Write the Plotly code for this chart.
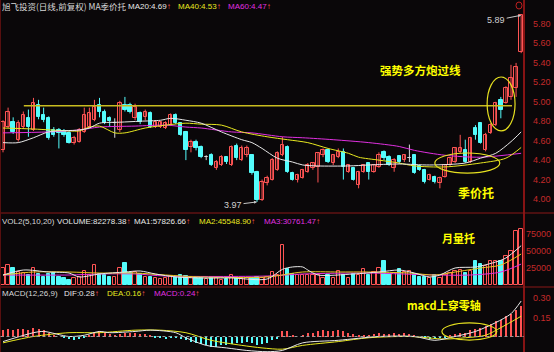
import plotly.graph_objects as go

# ---------------- data ----------------
open_ = [4.50,4.74,4.79,4.61,4.74,4.83,4.71,4.97,4.86,4.83,
         4.71,4.71,4.70,4.68,4.58,4.59,4.69,4.74,4.81,4.97,
         4.90,4.83,4.78,4.71,4.97,4.97,4.83,4.88,4.84,4.88,
         4.74,4.74,4.73,4.76,4.86,4.78,4.69,4.53,4.59,4.53,
         4.43,4.45,4.32,4.35,4.43,4.35,4.55,4.40,4.45,4.45,
         4.28,3.99,4.16,4.20,4.30,4.45,4.54,4.27,4.20,4.22,
         4.28,4.32,4.33,4.45,4.50,4.37,4.43,4.48,4.28,4.32,
         4.14,4.28,4.37,4.28,4.33,4.48,4.43,4.32,4.44,4.40,
         4.42,4.45,4.34,4.30,4.20,4.23,4.16,4.23,4.35,4.38,
         4.48,4.50,4.38,4.73,4.78,4.50,4.68,4.76,5.02,4.99,
         5.05,5.14,5.51]
high = [4.81,4.94,4.84,4.81,4.90,4.92,5.04,5.02,4.94,4.85,
        4.74,4.73,4.72,4.70,4.65,4.73,4.94,4.94,5.02,5.04,
        4.92,4.85,4.83,5.01,5.05,4.99,4.98,4.90,4.92,4.90,
        4.81,4.80,4.80,4.88,4.88,4.79,4.70,4.61,4.61,4.55,
        4.45,4.47,4.40,4.45,4.44,4.55,4.57,4.55,4.55,4.46,
        4.29,4.20,4.24,4.42,4.49,4.64,4.55,4.28,4.26,4.31,
        4.37,4.38,4.48,4.52,4.51,4.46,4.52,4.52,4.36,4.33,
        4.29,4.36,4.38,4.36,4.48,4.50,4.45,4.42,4.45,4.46,
        4.56,4.46,4.35,4.31,4.26,4.24,4.23,4.36,4.43,4.53,
        4.66,4.61,4.64,4.76,4.79,4.68,4.78,5.00,5.05,5.16,
        5.38,5.40,5.89]
low = [4.48,4.73,4.67,4.59,4.72,4.64,4.70,4.82,4.79,4.61,
       4.64,4.52,4.64,4.57,4.56,4.58,4.68,4.73,4.80,4.84,
       4.77,4.74,4.63,4.69,4.90,4.88,4.81,4.77,4.81,4.73,
       4.73,4.73,4.72,4.75,4.77,4.65,4.40,4.48,4.50,4.42,
       4.40,4.34,4.30,4.34,4.36,4.34,4.40,4.39,4.43,4.25,
       3.97,3.98,4.14,4.19,4.29,4.44,4.27,4.19,4.17,4.21,
       4.27,4.30,4.17,4.43,4.37,4.35,4.42,4.20,4.27,4.19,
       4.11,4.27,4.20,4.27,4.32,4.40,4.34,4.28,4.36,4.38,
       4.38,4.26,4.29,4.16,4.19,4.16,4.11,4.22,4.34,4.37,
       4.47,4.37,4.37,4.61,4.57,4.49,4.67,4.75,4.83,4.98,
       5.02,5.05,5.50]
close = [4.79,4.90,4.69,4.78,4.86,4.74,4.99,4.84,4.81,4.63,
         4.66,4.68,4.66,4.58,4.63,4.71,4.86,4.88,4.95,4.90,
         4.78,4.80,4.78,4.99,4.92,4.90,4.95,4.79,4.90,4.74,
         4.79,4.79,4.78,4.86,4.78,4.66,4.50,4.59,4.52,4.43,
         4.43,4.35,4.38,4.43,4.38,4.53,4.42,4.52,4.52,4.27,
         3.99,4.17,4.22,4.40,4.47,4.56,4.28,4.20,4.25,4.30,
         4.35,4.37,4.47,4.50,4.38,4.45,4.48,4.33,4.35,4.20,
         4.28,4.35,4.28,4.35,4.45,4.42,4.35,4.40,4.38,4.45,
         4.42,4.27,4.30,4.17,4.25,4.17,4.22,4.35,4.42,4.52,
         4.52,4.38,4.63,4.66,4.58,4.66,4.76,4.99,4.92,5.14,
         5.24,5.36,5.89]
volume = [24500,30000,25500,19600,17000,14700,25500,15700,12000,15700,
          17000,12000,9800,7400,9800,12000,20600,14700,29400,15700,
          14700,12000,12000,24500,32800,17000,19600,15700,12000,12000,
          9800,8800,9800,13700,12000,14700,13700,9800,9800,9800,
          8800,10500,9800,7400,9000,14700,9800,8800,9800,11000,
          12000,9800,12000,19600,15000,59000,23500,15700,14700,14700,
          14700,14700,14700,10000,14700,10000,21000,14700,10000,15700,
          14700,23500,14700,19600,25500,35000,15700,17000,23500,19600,
          21000,15700,12000,12000,9800,14000,11000,15000,17000,20000,
          22000,18000,21000,36000,31000,28000,35000,36000,35000,42000,
          50000,80000,82278]
macd_hist = [0.05,0.06,0.05,0.06,0.06,0.05,0.07,0.06,0.05,0.03,
             0.01,0.00,-0.01,-0.02,-0.03,-0.02,-0.01,0.01,0.03,0.04,
             0.03,0.02,0.01,0.02,0.03,0.03,0.03,0.02,0.02,0.01,
             -0.01,-0.01,-0.02,-0.01,-0.01,-0.02,-0.03,-0.04,-0.05,-0.06,
             -0.07,-0.08,-0.08,-0.07,-0.07,-0.06,-0.05,-0.05,-0.04,-0.05,
             -0.07,-0.06,-0.05,-0.03,-0.02,0.04,0.04,0.01,0.00,0.01,
             0.03,0.03,0.04,0.05,0.04,0.04,0.05,0.04,0.03,0.02,
             0.01,0.01,0.01,0.02,0.03,0.02,0.02,0.03,0.02,0.03,
             0.02,0.01,0.00,-0.01,-0.02,-0.02,-0.01,-0.01,0.01,0.02,
             0.03,0.03,0.05,0.06,0.07,0.08,0.10,0.12,0.13,0.16,
             0.18,0.21,0.24]

# moving-average lines, read at sample points (candle index, value)
ma20_i = [0,3,6,9,15,17,19,23,27,31,33,36,39,43,47,49,51,54,57,59,62,68,72,78,84,91,94,97,100,102]
ma20_v = [4.58,4.58,4.63,4.69,4.71,4.73,4.78,4.79,4.80,4.81,4.83,4.81,4.78,4.69,4.61,4.58,4.52,4.42,4.38,4.35,4.34,4.34,4.35,4.36,4.35,4.37,4.42,4.47,4.59,4.69]
ma40_i = [0,6,13,15,17,19,22,24,28,32,36,39,43,47,52,56,60,64,68,70,74,78,81,87,94,99,102]
ma40_v = [4.73,4.72,4.70,4.70,4.74,4.75,4.68,4.68,4.73,4.76,4.78,4.77,4.76,4.69,4.64,4.61,4.58,4.52,4.47,4.43,4.40,4.37,4.34,4.33,4.37,4.42,4.53]
ma60_i = [0,9,15,19,26,32,36,39,45,49,55,59,65,72,78,81,87,94,102]
ma60_v = [4.68,4.69,4.71,4.74,4.75,4.76,4.74,4.73,4.69,4.68,4.64,4.63,4.61,4.58,4.54,4.50,4.45,4.43,4.47]

vma5_i = [0,4,9,13,15,19,24,27,30,34,39,45,52,55,57,59,60,62,69,74,78,81,84,86,89,93,97,99,102]
vma5_v = [14700,22000,19100,17600,11800,16200,19100,20600,16200,11800,10300,10300,8800,23000,26500,26500,22000,14700,16200,19100,22000,17600,11800,14700,25000,26500,33800,39700,57827]
vma10_i = [0,6,13,19,26,32,39,52,59,66,72,80,85,89,94,98,102]
vma10_v = [14700,19100,19100,17600,17600,14700,11800,11800,19100,19100,19100,17600,14700,19100,25000,29400,45549]
vma20_i = [0,13,19,26,32,52,59,72,85,92,98,102]
vma20_v = [14700,14700,16200,16200,13200,13200,16200,17600,14700,14700,19100,30761]

dif_i = [0,6,8,13,16,19,21,26,29,34,36,40,44,48,52,55,59,66,74,81,85,89,93,97,100,102]
dif_v = [-0.04,0.03,0.04,0.00,0.01,0.04,0.03,0.04,0.05,0.03,-0.01,-0.07,-0.09,-0.11,-0.12,-0.11,-0.05,-0.03,0.00,0.00,-0.03,0.00,0.04,0.11,0.18,0.28]
dea_i = [0,6,13,19,26,31,36,41,47,51,55,59,66,72,80,87,91,95,98,102]
dea_v = [-0.05,0.00,0.03,0.03,0.05,0.05,0.03,-0.03,-0.07,-0.09,-0.10,-0.07,-0.04,-0.01,0.00,-0.02,-0.01,0.01,0.07,0.16]

price_ticks = [4.00,4.20,4.40,4.60,4.80,5.00,5.20,5.40,5.60,5.80]
vol_ticks = [25000,50000,75000]
macd_ticks = [0.15,0.30]
resist_level = 4.96

# ---------------- styling ----------------
BG = "#0a0709"
RED = "#ff5454"
CYAN = "#54fcfc"
AXRED = "#c42a2a"
YEL = "#ffff00"
W, H, PR = 554, 352, 524
LAT = "Liberation Sans, Arial, sans-serif"
CJK = "Noto Sans CJK SC, sans-serif"

N = len(close)
xs = list(range(N))
up = [c >= o for o, c in zip(open_, close)]
doji = [abs(c - o) < 1e-9 for o, c in zip(open_, close)]

fig = go.Figure()

def wick_trace(sel, color):
    wx, wy = [], []
    for i in xs:
        if sel(i):
            wx += [i, i, None]
            wy += [low[i], high[i], None]
    return go.Scatter(x=wx, y=wy, mode="lines", line=dict(color=color, width=1),
                      hoverinfo="skip", yaxis="y")

fig.add_trace(wick_trace(lambda i: up[i] and not doji[i], RED))
fig.add_trace(wick_trace(lambda i: not up[i], CYAN))
fig.add_trace(wick_trace(lambda i: doji[i], "#d8d8d8"))

def body_trace(sel, fill, line):
    bx = [i for i in xs if sel(i)]
    base = [min(open_[i], close[i]) for i in bx]
    hgt = [max(abs(close[i] - open_[i]), 0.004) for i in bx]
    return go.Bar(x=bx, y=hgt, base=base, width=0.66, yaxis="y",
                  marker=dict(color=fill, line=dict(color=line, width=1)),
                  hoverinfo="skip")

fig.add_trace(body_trace(lambda i: up[i] and not doji[i], BG, RED))
fig.add_trace(body_trace(lambda i: not up[i], CYAN, CYAN))
fig.add_trace(body_trace(lambda i: doji[i], "#d8d8d8", "#d8d8d8"))

for mi, mv, col in [(ma60_i, ma60_v, "#e030e0"), (ma40_i, ma40_v, "#e8e820"), (ma20_i, ma20_v, "#e8e8e8")]:
    fig.add_trace(go.Scatter(x=mi, y=mv, mode="lines", line=dict(color=col, width=1, shape="spline", smoothing=0.8),
                             yaxis="y", hoverinfo="skip"))

vu = [i for i in xs if up[i]]
vd = [i for i in xs if not up[i]]
fig.add_trace(go.Bar(x=vu, y=[volume[i] for i in vu], width=0.66, yaxis="y2",
                     marker=dict(color=BG, line=dict(color=RED, width=1)), hoverinfo="skip"))
fig.add_trace(go.Bar(x=vd, y=[volume[i] for i in vd], width=0.66, yaxis="y2",
                     marker=dict(color=CYAN, line=dict(color=CYAN, width=1)), hoverinfo="skip"))
for mi, mv, col in [(vma20_i, vma20_v, "#e030e0"), (vma10_i, vma10_v, "#e8c820"), (vma5_i, vma5_v, "#e8e8e8")]:
    fig.add_trace(go.Scatter(x=mi, y=mv, mode="lines", line=dict(color=col, width=1, shape="spline", smoothing=0.8),
                             yaxis="y2", hoverinfo="skip"))

fig.add_trace(go.Bar(x=xs, y=macd_hist, width=0.22, yaxis="y3",
                     marker=dict(color=[RED if v >= 0 else CYAN for v in macd_hist], line=dict(width=0)),
                     hoverinfo="skip"))
fig.add_trace(go.Scatter(x=dea_i, y=dea_v, mode="lines", line=dict(color="#e8e820", width=1, shape="spline", smoothing=0.8),
                         yaxis="y3", hoverinfo="skip"))
fig.add_trace(go.Scatter(x=dif_i, y=dif_v, mode="lines", line=dict(color="#e8e8e8", width=1, shape="spline", smoothing=0.8),
                         yaxis="y3", hoverinfo="skip"))

# ---------------- layout ----------------
def py(p):
    return (H - p) / H

def px(p):
    return p / PR

shapes = [
    dict(type="line", xref="paper", yref="paper", x0=1, x1=1, y0=0, y1=1, line=dict(color="#b01818", width=1.5)),
    dict(type="line", xref="paper", yref="paper", x0=0, x1=W / PR, y0=py(213), y1=py(213), line=dict(color="#8a1818", width=1)),
    dict(type="line", xref="paper", yref="paper", x0=0, x1=W / PR, y0=py(287), y1=py(287), line=dict(color="#8a1818", width=1)),
    dict(type="line", xref="paper", yref="paper", x0=0.001, x1=0.001, y0=0, y1=1, line=dict(color="#5a1010", width=1)),
    dict(type="line", xref="x", yref="y3", x0=-0.5, x1=N - 0.5, y0=0, y1=0, line=dict(color="#9a9a9a", width=1, dash="dot")),
    dict(type="line", xref="x", yref="y", x0=4.1, x1=100.2, y0=resist_level, y1=resist_level, line=dict(color="#c8bc20", width=1.5)),
    dict(type="circle", xref="x", yref="y", x0=95.3, x1=100.8, y0=4.70, y1=5.255, line=dict(color="#e6e020", width=1.2)),
    dict(type="circle", xref="x", yref="y", x0=85.0, x1=97.8, y0=4.267, y1=4.473, line=dict(color="#e6e020", width=1.2)),
    dict(type="circle", xref="x", yref="y3", x0=86.4, x1=97.2, y0=-0.028, y1=0.107, line=dict(color="#e6e020", width=1.2)),
    dict(type="circle", xref="paper", yref="paper", x0=px(516), x1=px(522), y0=py(9), y1=py(2), line=dict(color="#c02020", width=1)),
]

anns = []
ARROW = f"<span style='color:{RED}'>↑</span>"
def ann(text, x, y, color, size, anchor="left", family=LAT):
    anns.append(dict(text=text, x=px(x), y=py(y), xref="paper", yref="paper", xanchor=anchor, yanchor="middle",
                     showarrow=False, font=dict(color=color, size=size, family=family)))

HS = 8
ann("旭飞投资(日线,前复权) MA季价托", 0, 6, "#d8d8d8", 8.5, family=CJK)
ann("MA20:4.69" + ARROW, 126, 6, "#e8e8e8", HS)
ann("MA40:4.53" + ARROW, 176, 6, "#e8e820", HS)
ann("MA60:4.47" + ARROW, 226, 6, "#e030e0", HS)

ann("VOL2(5,10,20)", 0, 221, "#d8d8d8", HS)
ann("VOLUME:82278.38" + ARROW, 55, 221, "#e8e8e8", HS)
ann("MA1:57826.66" + ARROW, 132, 221, "#e8e8e8", HS)
ann("MA2:45548.90" + ARROW, 197, 221, "#e8e820", HS)
ann("MA3:30761.47" + ARROW, 262, 221, "#e030e0", HS)

ann("MACD(12,26,9)", 0, 293, "#d8d8d8", HS)
ann("DIF:0.28" + ARROW, 62, 293, "#e8e8e8", HS)
ann("DEA:0.16" + ARROW, 105, 293, "#e8e820", HS)
ann("MACD:0.24" + ARROW, 152, 293, "#e030e0", HS)

ann("<b>强势多方炮过线</b>", 420, 70, YEL, 11.5, anchor="center", family=CJK)
ann("<b>季价托</b>", 476, 192, YEL, 12, anchor="center", family=CJK)
ann("<b>月量托</b>", 458, 238, YEL, 11, anchor="center", family=CJK)
ann("<b>macd上穿零轴</b>", 444, 305, YEL, 11, anchor="center", family=CJK)

for v in price_ticks:
    anns.append(dict(text=f"{v:.2f}", x=553 / PR, y=v, xref="paper", yref="y", xanchor="right", yanchor="middle",
                     showarrow=False, font=dict(color=AXRED, size=9, family=LAT)))
for v in vol_ticks:
    anns.append(dict(text=f"{v}", x=553 / PR, y=v, xref="paper", yref="y2", xanchor="right", yanchor="middle",
                     showarrow=False, font=dict(color=AXRED, size=9, family=LAT)))
for v in macd_ticks:
    anns.append(dict(text=f"{v:.2f}", x=553 / PR, y=v, xref="paper", yref="y3", xanchor="right", yanchor="middle",
                     showarrow=False, font=dict(color=AXRED, size=9, family=LAT)))

i_hi = high.index(max(high)); i_lo = low.index(min(low))
anns.append(dict(text=f"{high[i_hi]:.2f}", x=i_hi, y=high[i_hi], xref="x", yref="y", showarrow=True,
                 ax=-25, ay=5, arrowhead=2, arrowsize=0.6, arrowwidth=1, arrowcolor="#c8c8c8",
                 font=dict(color="#d0d0d0", size=9, family=LAT)))
anns.append(dict(text=f"{low[i_lo]:.2f}", x=i_lo, y=low[i_lo], xref="x", yref="y", showarrow=True,
                 ax=-24, ay=3, arrowhead=2, arrowsize=0.6, arrowwidth=1, arrowcolor="#c8c8c8",
                 font=dict(color="#d0d0d0", size=9, family=LAT)))

fig.update_layout(
    width=W, height=H, margin=dict(l=0, r=W - PR, t=0, b=0),
    paper_bgcolor=BG, plot_bgcolor=BG, showlegend=False, barmode="overlay",
    xaxis=dict(range=[-0.59, 102.56], visible=False, fixedrange=True),
    yaxis=dict(domain=[py(213), 1.0], range=[3.856, 6.047], visible=False, anchor="x"),
    yaxis2=dict(domain=[py(286), py(213)], range=[-1470, 105840], visible=False, anchor="x"),
    yaxis3=dict(domain=[0, py(287)], range=[-0.1223, 0.3907], visible=False, anchor="x"),
    shapes=shapes, annotations=anns, bargap=0,
)

fig.write_html("out.html")
